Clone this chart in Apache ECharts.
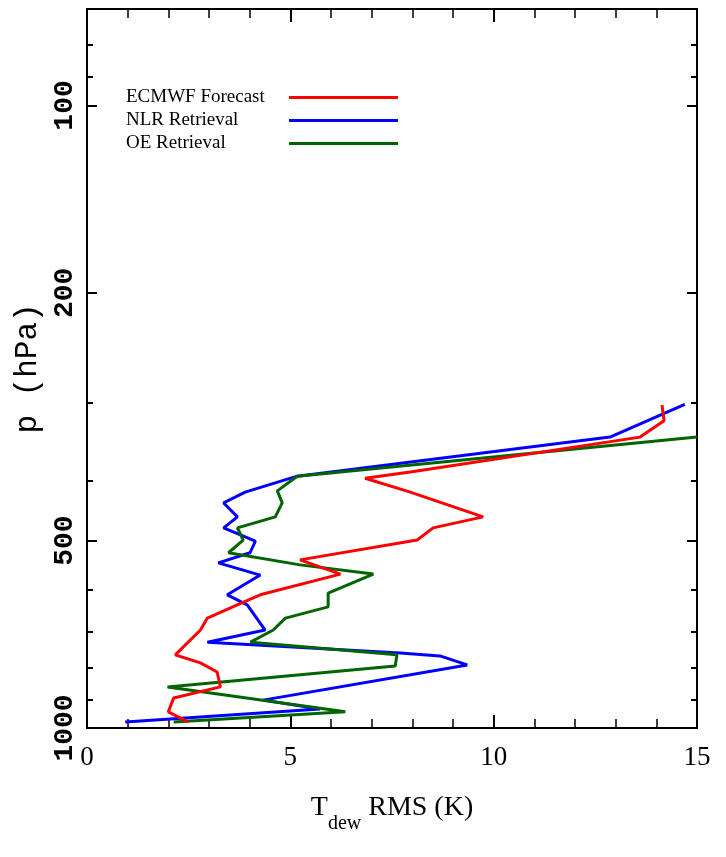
<!DOCTYPE html>
<html>
<head>
<meta charset="utf-8">
<script src="https://cdn.jsdelivr.net/npm/echarts@6/dist/echarts.min.js"></script>
<style>
  html, body { margin: 0; padding: 0; background: #fff; }
  #chart { width: 726px; height: 857px; }
</style>
</head>
<body>
<div id="chart"></div>
<script>
// dew point RMS (K) against pressure level (hPa)
var ecmwfRms = [14.14, 14.19, 13.60, 7.95, 6.84, 7.95, 9.74, 8.51, 8.12, 5.24, 6.23, 4.26, 3.85, 2.96, 2.79, 2.17, 2.79, 3.20, 3.28, 2.13, 2.00, 2.49];
var ecmwfP = [303, 321, 341, 388, 397, 418, 458, 477, 499, 537, 566, 611, 628, 666, 696, 763, 786, 813, 859, 895, 942, 978];

var nlrRms = [14.70, 12.86, 5.17, 3.89, 3.36, 3.70, 3.36, 4.14, 4.01, 3.23, 4.26, 3.45, 3.94, 4.38, 2.96, 7.70, 8.68, 9.35, 4.33, 5.73, 0.94];
var nlrP = [302, 341, 394, 418, 435, 458, 477, 501, 523, 543, 568, 611, 634, 696, 728, 758, 766, 792, 902, 932, 978];

var oeRms = [15.0, 5.17, 4.68, 4.80, 4.63, 3.70, 3.84, 3.48, 5.24, 7.04, 5.93, 5.93, 4.88, 4.58, 4.02, 7.62, 7.58, 1.98, 6.35, 2.13];
var oeP = [341, 394, 416, 435, 458, 477, 499, 523, 547, 566, 607, 639, 666, 696, 728, 763, 795, 859, 942, 978];

var pLabels = [100, 200, 500, 1000];
var pMinor = [80, 90, 300, 400, 600, 700, 800, 900];

function pairs(xs, ps) {
  var out = [];
  for (var i = 0; i < xs.length; i++) {
    out.push([xs[i], ps[i]]);
  }
  return out;
}

// one log pressure axis; several are stacked to get long and short ticks
function pAxis(position, ticks, len, labels) {
  return {
    type: "log",
    logBase: 10,
    position: position,
    min: 70,
    max: 1000,
    inverse: true,
    axisLine: { show: true, lineStyle: { color: "#000", width: 2 } },
    axisTick: {
      show: true,
      inside: true,
      length: len,
      customValues: ticks,
      lineStyle: { color: "#000", width: 2 }
    },
    axisLabel: {
      show: !!labels,
      customValues: pLabels,
      rotate: 90,
      margin: 8,
      fontFamily: "Liberation Mono",
      fontWeight: "bold",
      fontSize: 28,
      color: "#000",
      formatter: function (v) {
        return String(Math.round(v));
      }
    },
    splitLine: { show: false }
  };
}

function tAxis(position, labels) {
  return {
    type: "value",
    position: position,
    min: 0,
    max: 15,
    interval: 5,
    axisLine: { show: true, lineStyle: { color: "#000", width: 2 } },
    axisTick: { show: true, inside: true, length: 13, lineStyle: { color: "#000", width: 2 } },
    minorTick: { show: true, splitNumber: 5, length: 9, lineStyle: { color: "#000", width: 1.5 } },
    axisLabel: {
      show: labels,
      margin: 16,
      fontFamily: "Liberation Serif",
      fontSize: 27,
      color: "#000"
    },
    splitLine: { show: false }
  };
}

var chart = echarts.init(document.getElementById("chart"));

var xBottom = tAxis("bottom", true);
xBottom.name = "{t|T}{s|dew}{t| RMS (K)}{h|}";
xBottom.nameLocation = "middle";
xBottom.nameGap = 66;
xBottom.nameTextStyle = {
  rich: {
    t: { fontFamily: "Liberation Serif", fontSize: 28, lineHeight: 28, verticalAlign: "top", color: "#000" },
    s: { fontFamily: "Liberation Serif", fontSize: 20, lineHeight: 20, verticalAlign: "bottom", color: "#000" },
    h: { lineHeight: 40 }
  }
};

var yLeft = pAxis("left", pLabels, 10, true);
yLeft.name = "p (hPa)";
yLeft.nameLocation = "middle";
yLeft.nameRotate = 90;
yLeft.nameGap = 33;
yLeft.nameTextStyle = { fontFamily: "Liberation Mono", fontSize: 31, color: "#000" };

var option = {
  animation: false,
  backgroundColor: "#fff",
  grid: { left: 87, right: 29, top: 9, bottom: 129 },
  legend: {
    orient: "vertical",
    left: 126,
    top: 88,
    padding: 0,
    align: "right",
    icon: "rect",
    itemWidth: 109,
    itemHeight: 3,
    itemGap: 4,
    formatter: "{a|{name}}",
    textStyle: {
      rich: {
        a: { fontFamily: "Liberation Serif", fontSize: 19, lineHeight: 18, width: 158, align: "left", color: "#000" }
      }
    },
    data: ["ECMWF Forecast", "NLR Retrieval", "OE Retrieval"]
  },
  xAxis: [xBottom, tAxis("top", false)],
  yAxis: [
    yLeft,
    pAxis("left", pMinor, 6, false),
    pAxis("right", pLabels, 10, false),
    pAxis("right", pMinor, 6, false)
  ],
  series: [
    {
      name: "NLR Retrieval",
      type: "line",
      symbol: "none",
      data: pairs(nlrRms, nlrP),
      itemStyle: { color: "#0000ff" },
      lineStyle: { color: "#0000ff", width: 3 }
    },
    {
      name: "OE Retrieval",
      type: "line",
      symbol: "none",
      data: pairs(oeRms, oeP),
      itemStyle: { color: "#006400" },
      lineStyle: { color: "#006400", width: 3 }
    },
    {
      name: "ECMWF Forecast",
      type: "line",
      symbol: "none",
      data: pairs(ecmwfRms, ecmwfP),
      itemStyle: { color: "#ff0000" },
      lineStyle: { color: "#ff0000", width: 3 }
    }
  ]
};

chart.setOption(option);
</script>
</body>
</html>
